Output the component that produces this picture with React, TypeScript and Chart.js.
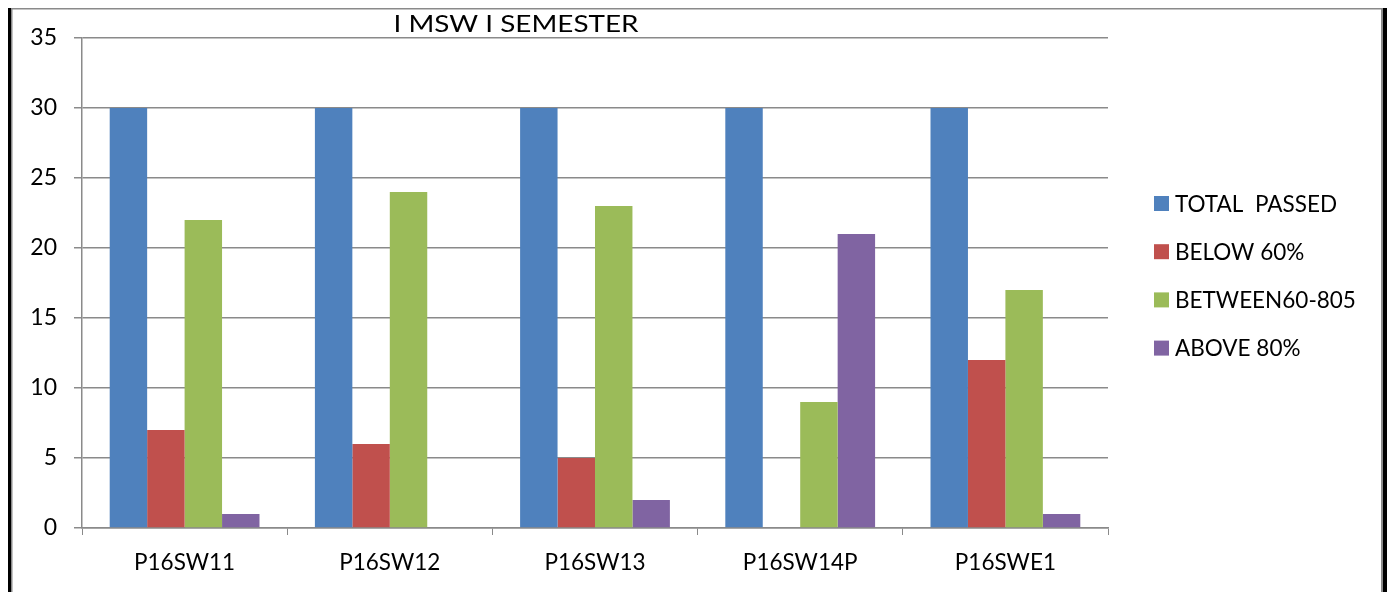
import React, { useEffect, useRef } from "react";
import { Chart, registerables } from "chart.js";

Chart.register(...registerables);

const categories = ["P16SW11", "P16SW12", "P16SW13", "P16SW14P", "P16SWE1"];
const seriesNames = ["TOTAL  PASSED", "BELOW 60%", "BETWEEN60-805", "ABOVE 80%"];
const totalPassed = [30, 30, 30, 30, 30];
const below60 = [7, 6, 5, 0, 12];
const between60to80 = [22, 24, 23, 9, 17];
const above80 = [1, 0, 2, 21, 1];
const colors = ["#4F81BD", "#C0504D", "#9BBB59", "#8064A2"];
const yTicks = [0, 5, 10, 15, 20, 25, 30, 35];
const chartTitle = "I MSW I SEMESTER";

const FONT = "Lato, 'Open Sans', sans-serif";

const decorPlugin = {
  id: "decor",
  afterDraw(chart: any) {
    const ctx = chart.ctx;
    ctx.save();
    // frame
    ctx.fillStyle = "#000";
    ctx.fillRect(8, 8, 3, 592);
    ctx.fillRect(1383, 8, 4, 592);
    ctx.fillStyle = "#8a8a8a";
    ctx.fillRect(11, 8, 1.5, 592);
    ctx.fillRect(11, 8, 1372, 1.5);
    ctx.fillRect(1381, 8, 2, 592);
    // title (horizontally stretched like the reference)
    ctx.save();
    ctx.fillStyle = "#000";
    ctx.font = "23px " + FONT;
    ctx.textAlign = "center";
    ctx.textBaseline = "middle";
    const w = ctx.measureText(chartTitle).width;
    const sx = 245 / w;
    ctx.translate(516, 25);
    ctx.scale(sx, 1);
    ctx.fillText(chartTitle, 0, 0);
    ctx.restore();
    // legend
    const startY = 203.5;
    const step = 48.2;
    ctx.font = "22.5px " + FONT;
    ctx.textAlign = "left";
    ctx.textBaseline = "middle";
    chart.data.datasets.forEach((ds: any, i: number) => {
      const cy = startY + i * step;
      ctx.fillStyle = ds.backgroundColor;
      ctx.fillRect(1154, cy - 7.5, 15, 15);
      ctx.fillStyle = "#000";
      ctx.fillText(ds.label, 1175, cy + 1);
    });
    ctx.restore();
  },
};

export default function App() {
  const ref = useRef<HTMLCanvasElement>(null);
  useEffect(() => {
    if (!ref.current) return;
    const seriesData = [totalPassed, below60, between60to80, above80];
    const chart = new Chart(ref.current, {
      type: "bar",
      data: {
        labels: categories,
        datasets: seriesNames.map((name, i) => ({
          label: name,
          data: seriesData[i],
          backgroundColor: colors[i],
          borderWidth: 0,
          barPercentage: 1,
          categoryPercentage: 0.73,
        })),
      },
      options: {
        responsive: false,
        animation: false,
        layout: { padding: { top: 38, right: 282, left: 0, bottom: 0 } },
        plugins: {
          legend: { display: false },
          title: { display: false },
          tooltip: { enabled: false },
        },
        scales: {
          x: {
            afterFit: (s: any) => {
              s.height = 64;
            },
            grid: {
              display: true,
              drawOnChartArea: false,
              drawTicks: true,
              tickLength: 7,
              color: "#8a8a8a",
              offset: true,
            },
            border: { color: "#8a8a8a", width: 1.5 },
            ticks: { color: "#000", font: { family: FONT, size: 22.5 }, padding: 14 },
          },
          y: {
            min: 0,
            max: 35,
            afterFit: (s: any) => {
              s.width = 82;
            },
            afterBuildTicks: (s: any) => {
              s.ticks = yTicks.map((v) => ({ value: v }));
            },
            grid: { color: "#8a8a8a", tickLength: 8, lineWidth: 1.5 },
            border: { color: "#8a8a8a", width: 1.5 },
            ticks: { color: "#000", font: { family: FONT, size: 23 }, padding: 17 },
          },
        },
      },
      plugins: [decorPlugin],
    });
    return () => chart.destroy();
  }, []);
  return (
    <div style={{ position: "fixed", left: 0, top: 0, width: 1390, height: 592, background: "#fff" }}>
      <canvas ref={ref} width={1390} height={592} style={{ display: "block" }} />
    </div>
  );
}
